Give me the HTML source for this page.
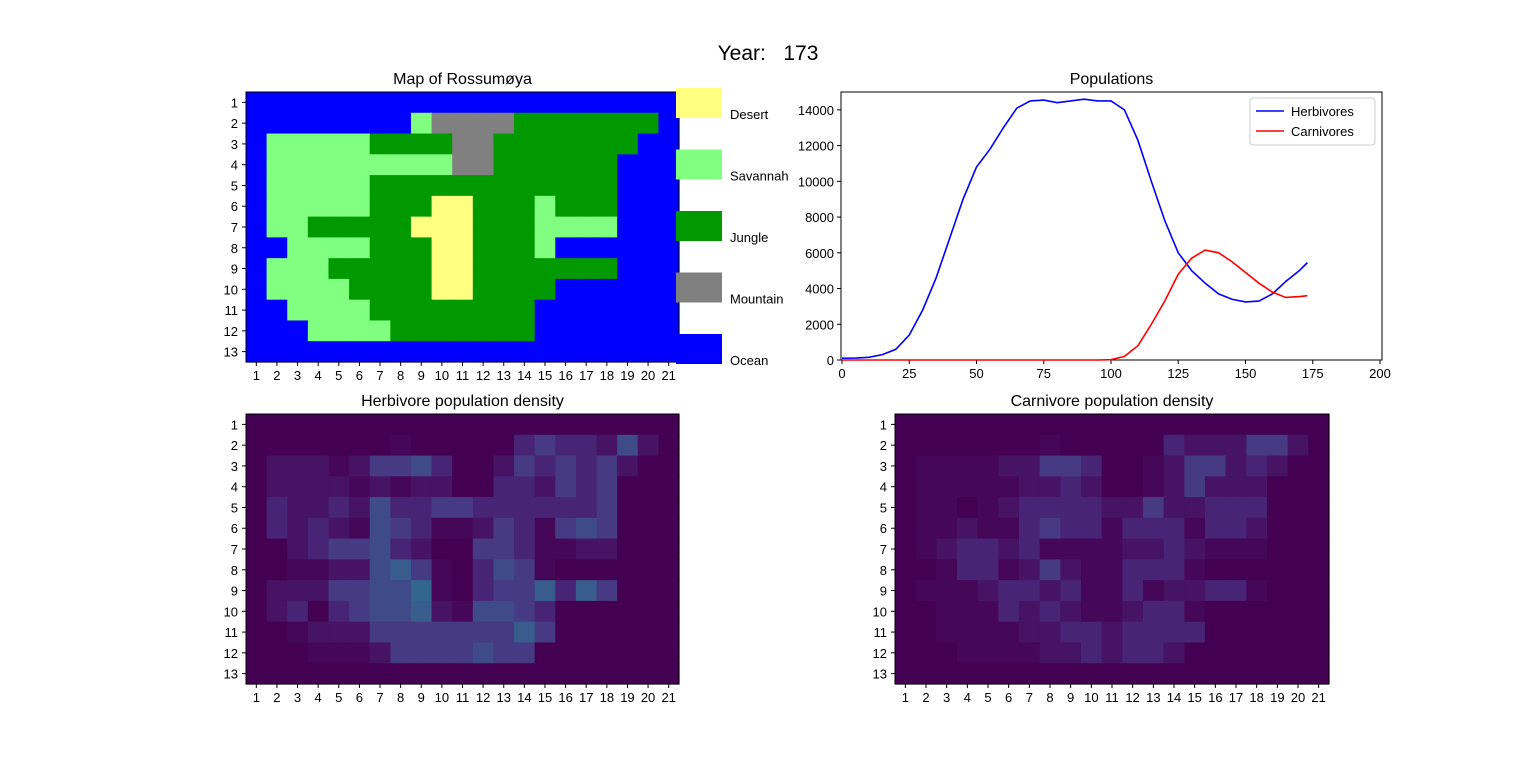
<!DOCTYPE html>
<html><head><meta charset="utf-8"><style>
html,body{margin:0;padding:0;background:#fff;}
svg{display:block;font-family:"Liberation Sans","DejaVu Sans",sans-serif;}
</style></head><body>
<svg id="fig" width="1536" height="767" viewBox="0 0 1536 767" xmlns="http://www.w3.org/2000/svg">
<rect width="1536" height="767" fill="#fff"/>
<text x="768" y="60" font-size="21" text-anchor="middle" xml:space="preserve">Year:   173</text>
<g id="map"></g>
<g id="legend"></g>
<g id="pop"></g>
<g id="herb"></g>
<g id="carn"></g>
</svg>
<script>
// ---- data ----
const mapRows = [
"OOOOOOOOOOOOOOOOOOOOO",
"OOOOOOOOSMMMMJJJJJJJO",
"OSSSSSJJJJMMJJJJJJJOO",
"OSSSSSSSSSMMJJJJJJOOO",
"OSSSSSJJJJJJJJJJJJOOO",
"OSSSSSJJJDDJJJSJJJOOO",
"OSSJJJJJDDDJJJSSSSOOO",
"OOSSSSJJJDDJJJSOOOOOO",
"OSSSJJJJJDDJJJJJJJOOO",
"OSSSSJJJJDDJJJJOOOOOO",
"OOSSSSJJJJJJJJOOOOOOO",
"OOOSSSSJJJJJJJOOOOOOO",
"OOOOOOOOOOOOOOOOOOOOO"];
const landTypes = ["Desert","Savannah","Jungle","Mountain","Ocean"];
const years = [0,5,10,15,20,25,30,35,40,45,50,55,60,65,70,75,80,85,90,95,100,105,110,115,120,125,130,135,140,145,150,155,160,165,170,173];
const herbivores = [100,110,150,300,600,1400,2800,4600,6800,9000,10800,11800,13000,14100,14500,14550,14400,14500,14600,14500,14500,14000,12300,10000,7800,6000,5000,4300,3700,3400,3250,3300,3700,4400,5000,5450];
const carnivores = [0,0,0,0,0,0,0,0,0,0,0,0,0,0,0,0,0,0,0,0,20,200,800,2000,3300,4800,5700,6150,6000,5500,4900,4300,3800,3500,3550,3600];
const xTicks = [0,25,50,75,100,125,150,175,200];
const yTicks = [0,2000,4000,6000,8000,10000,12000,14000];
const herbDensity = [
"000000000000000000000",
"000000010000034332520",
"022212445300243434200",
"022221212200332434000",
"032232533443333334000",
"032321543112431454000",
"002344532004431122000",
"001122564103541000000",
"022244557103446364000",
"023034556215543000000",
"001222444444464000000",
"000111244445440000000",
"000000000000000000000"];
const carnDensity = [
"000000000000000000000",
"000000010000032224420",
"011112244300124423200",
"011111223200124222000",
"011012333322422333000",
"011211343313331332000",
"012332311112232111000",
"001331242113331000000",
"011123323113122331000",
"001113232112331000000",
"001111223323333000000",
"000111122323320000000",
"000000000000000000000"];

const NS="http://www.w3.org/2000/svg";
function mk(parent, tag, attrs, text){
  const e=document.createElementNS(NS,tag);
  for(const k in attrs) e.setAttribute(k,attrs[k]);
  if(text!==undefined) e.textContent=text;
  parent.appendChild(e); return e;
}
const landColor={O:"#0000ff",S:"#80ff80",J:"#009a00",M:"#808080",D:"#ffff80"};
const dens=["#440154","#46075a","#471365","#482475","#463a82","#3f4a89","#375c8d","#32668e"];

function gridAxes(g, x0, y0, w, h, title){
  const cw=w/21, ch=h/13;
  mk(g,"rect",{x:x0,y:y0,width:w,height:h,fill:"none",stroke:"#000","stroke-width":1});
  for(let c=0;c<21;c++){
    const x=x0+(c+0.5)*cw;
    mk(g,"line",{x1:x,x2:x,y1:y0+h,y2:y0+h+4,stroke:"#000"});
    const t=mk(g,"text",{x:x,y:y0+h+18,"font-size":13,"text-anchor":"middle"},String(c+1));
    
    
  }
  for(let r=0;r<13;r++){
    const y=y0+(r+0.5)*ch;
    mk(g,"line",{x1:x0-4,x2:x0,y1:y,y2:y,stroke:"#000"});
    const t=mk(g,"text",{x:x0-8,y:y+5,"font-size":13,"text-anchor":"end"},String(r+1));
    
    
  }
  const tt=mk(g,"text",{x:x0+w/2,y:y0-8,"font-size":16,"text-anchor":"middle"},title);
  
  
}
function cells(g,x0,y0,w,h,rows,colorFn){
  const cw=w/21, ch=h/13;
  rows.forEach((row,r)=>{for(let c=0;c<21;c++){
    const e=mk(g,"rect",{x:x0+c*cw,y:y0+r*ch,width:cw+0.6,height:ch+0.6,fill:colorFn(row[c])});
    
    
  }});
}
// Map
const gm=document.getElementById("map");
cells(gm,246,92,433,270,mapRows,ch=>landColor[ch]);
gridAxes(gm,246,92,433,270,"Map of Rossumøya");
// Legend
const gl=document.getElementById("legend");
const legCols=["#ffff80","#80ff80","#009a00","#808080","#0000ff"];
landTypes.forEach((name,i)=>{
  const y=88+i*61.5;
  const r=mk(gl,"rect",{x:676,y:y,width:46,height:30,fill:legCols[i]});
  
  
  const t=mk(gl,"text",{x:730,y:y+31,"font-size":13},name);
  
  
});
// Populations
const gp=document.getElementById("pop");
const px0=841,px1=1382,py0=92,py1=360;
const sx=v=>842+(v/200)*538;
const sy=v=>py1-(v/15000)*(py1-py0);
mk(gp,"rect",{x:px0,y:py0,width:px1-px0,height:py1-py0,fill:"#fff",stroke:"#000"});
xTicks.forEach(v=>{
  mk(gp,"line",{x1:sx(v),x2:sx(v),y1:py1,y2:py1+4,stroke:"#000"});
  const t=mk(gp,"text",{x:sx(v),y:py1+18,"font-size":13,"text-anchor":"middle"},String(v));
  
  
});
yTicks.forEach(v=>{
  mk(gp,"line",{x1:px0-4,x2:px0,y1:sy(v),y2:sy(v),stroke:"#000"});
  const t=mk(gp,"text",{x:px0-7,y:sy(v)+5,"font-size":13,"text-anchor":"end"},String(v));
  
  
});
function line(vals,color,name){
  const p=mk(gp,"polyline",{points:years.map((y,i)=>sx(y)+","+sy(vals[i])).join(" "),fill:"none",stroke:color,"stroke-width":1.6});
  
  
}
line(herbivores,"#0000ff","herbivore-line");
line(carnivores,"#ff0000","carnivore-line");
const pt=mk(gp,"text",{x:(px0+px1)/2,y:84,"font-size":16,"text-anchor":"middle"},"Populations");


const lg=mk(gp,"g",{});


mk(lg,"rect",{x:1250,y:98,width:125,height:47,rx:3,fill:"#fff",stroke:"#ccc"});
mk(lg,"line",{x1:1256,x2:1284,y1:111,y2:111,stroke:"#0000ff","stroke-width":1.6});
mk(lg,"text",{x:1291,y:116,"font-size":13},"Herbivores");
mk(lg,"line",{x1:1256,x2:1284,y1:131,y2:131,stroke:"#ff0000","stroke-width":1.6});
mk(lg,"text",{x:1291,y:136,"font-size":13},"Carnivores");
// Heatmaps
const gh=document.getElementById("herb");
cells(gh,246,414,433,270,herbDensity,ch=>dens[+ch]);
gridAxes(gh,246,414,433,270,"Herbivore population density");
const gc=document.getElementById("carn");
cells(gc,895,414,434,270,carnDensity,ch=>dens[+ch]);
gridAxes(gc,895,414,434,270,"Carnivore population density");
</script>
</body></html>
